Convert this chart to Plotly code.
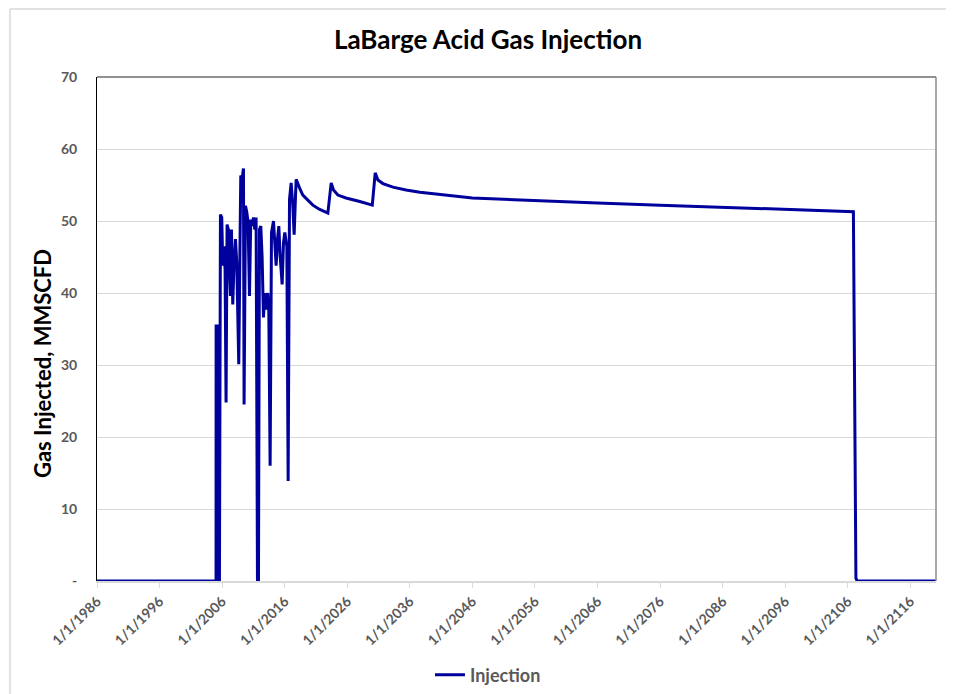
import plotly.graph_objects as go

# ---- data ----
dates = [
    "1986-01-01", "2005-01-10", "2005-01-15", "2005-05-28", "2005-06-17", "2005-07-27",
    "2005-09-24", "2005-12-10", "2006-02-06", "2006-04-23", "2006-06-21", "2006-08-18",
    "2006-10-16", "2007-01-04", "2007-03-04", "2007-05-01", "2007-06-29", "2007-09-13",
    "2007-11-28", "2008-02-17", "2008-05-04", "2008-08-29", "2008-11-14", "2008-12-24",
    "2009-03-11", "2009-05-30", "2009-07-05", "2009-09-24", "2009-12-10", "2010-02-24",
    "2010-05-16", "2010-07-31", "2010-10-16", "2011-01-04", "2011-03-22", "2011-06-07",
    "2011-08-26", "2011-10-23", "2011-12-20", "2012-03-06", "2012-05-22", "2012-08-10",
    "2012-10-26", "2013-01-11", "2013-04-20", "2013-06-17", "2013-09-02", "2013-11-21",
    "2014-03-18", "2014-06-03", "2014-08-19", "2014-11-07", "2015-01-23", "2015-04-10",
    "2015-08-05", "2015-10-23", "2016-01-08", "2016-05-05", "2016-07-20", "2016-10-08",
    "2017-01-12", "2017-04-20", "2017-07-06", "2017-09-24", "2017-11-01",
    "2018-05-15", "2018-11-24", "2019-09-13", "2020-07-01", "2021-08-08", "2022-11-24",
    "2023-06-07", "2023-10-20", "2024-07-01", "2025-10-20", "2028-01-01", "2030-01-01",
    "2030-06-20", "2030-11-24", "2031-09-13", "2033-04-20", "2035-05-28", "2037-08-08",
    "2046-01-01", "2056-01-01", "2066-01-01", "2076-01-01", "2086-01-01", "2096-01-01",
    "2106-11-24", "2107-04-20", "2107-07-01", "2120-02-06",
]
injection = [
    0, 0, 35.4, 35.4, 0, 0,
    50.9, 50.5, 43.8, 46.5, 43.3, 24.8,
    49.5, 48.8, 43.3, 39.6, 48.8, 38.4,
    44.2, 47.5, 44.2, 30.1, 47.9, 56.3,
    55.8, 57.3, 24.5, 52.1, 51.2, 49.8,
    39.6, 50.2, 49.3, 50.5, 48.8, 50.5,
    0, 0, 48.8, 49.3, 45.1, 36.6,
    40.0, 37.7, 40.0, 37.7, 16.0, 48.4,
    50.0, 46.5, 43.8, 47.5, 49.3, 45.1,
    41.2, 47.0, 48.4, 46.5, 13.9, 53.0,
    55.3, 52.1, 48.1, 53.5, 55.8,
    54.6, 53.6, 52.9, 52.2, 51.6, 51.1,
    55.3, 54.3, 53.6, 53.2, 52.7, 52.2,
    56.7, 55.7, 55.2, 54.7, 54.3, 54.0,
    53.2, 52.8, 52.5, 52.2, 51.9, 51.6,
    51.3, 0.4, 0, 0,
]

tick_years = [1986, 1996, 2006, 2016, 2026, 2036, 2046, 2056, 2066, 2076, 2086, 2096, 2106, 2116]
tick_vals = [f"{y}-01-01" for y in tick_years]
tick_text = [f"1/1/{y}" for y in tick_years]

y_ticks = [0, 10, 20, 30, 40, 50, 60, 70]
y_text = ["-", "10", "20", "30", "40", "50", "60", "70"]

FONT = "Lato, 'Open Sans', sans-serif"
GRAY = "#595959"

fig = go.Figure()
fig.add_trace(go.Scatter(
    x=dates, y=injection, mode="lines", name="Injection",
    line=dict(color="#00009C", width=3),
))

# the page body has an 8px margin, so the figure is drawn 8px smaller
OFF = 8
W, H = 954 - OFF, 694 - OFF
PL, PR, PT, PB = 97, 936, 77, 581          # plot area in screen pixels
L, R, T, B = PL - OFF, W - (PR - OFF), PT - OFF, H - (PB - OFF)
pw, ph = PR - PL, PB - PT

def px(xp):
    return (xp - PL) / pw

def py(yp):
    return (PB - yp) / ph

fig.update_layout(
    width=W, height=H,
    margin=dict(l=L, r=R, t=T, b=B, autoexpand=False),
    paper_bgcolor="white", plot_bgcolor="white",
    font=dict(family=FONT, color=GRAY),
    title=dict(
        text="LaBarge Acid Gas Injection",
        x=px(488), xref="paper", xanchor="center",
        y=1 - (40 - OFF) / H, yref="container", yanchor="middle",
        font=dict(family=FONT, size=26, color="black", weight="bold"),
    ),
    showlegend=True,
    legend=dict(
        orientation="h", x=px(488), xanchor="center", y=py(675), yanchor="middle",
        font=dict(family=FONT, size=18, color=GRAY, weight="bold"),
        itemwidth=30,
    ),
    xaxis=dict(
        type="date", range=["1986-01-01", "2120-02-06"],
        tickmode="array", tickvals=tick_vals, ticktext=tick_text,
        tickangle=-45, tickfont=dict(family=FONT, size=14, color=GRAY, weight="bold"),
        ticks="outside", ticklen=5, tickcolor="#D9D9D9",
        showgrid=False, showline=True, linecolor="#D9D9D9", linewidth=1.5,
        zeroline=False, automargin=False,
    ),
    yaxis=dict(
        range=[0, 70], tickmode="array", tickvals=y_ticks, ticktext=y_text,
        tickfont=dict(family=FONT, size=14, color=GRAY, weight="bold"),
        showgrid=True, gridcolor="#D9D9D9", gridwidth=1,
        showline=True, linecolor="black", linewidth=1,
        zeroline=False, ticks="", ticklabelstandoff=16, automargin=False,
    ),
    annotations=[dict(
        text="Gas Injected, MMSCFD", textangle=-90,
        x=px(42), y=py(364), xref="paper", yref="paper",
        xanchor="center", yanchor="middle", showarrow=False,
        font=dict(family=FONT, size=22, color="black", weight="bold"),
    )],
    shapes=[
        # top border of plot area
        dict(type="line", xref="paper", yref="paper", x0=0, x1=1, y0=1, y1=1,
             line=dict(color="#222222", width=1)),
        # right border of plot area
        dict(type="line", xref="paper", yref="paper", x0=1, x1=1, y0=0, y1=1,
             line=dict(color="#8C8C8C", width=1.5)),
        # chart-area outer border (top / left)
        dict(type="line", xref="paper", yref="paper", x0=px(10), x1=px(954),
             y0=py(9), y1=py(9), line=dict(color="#D9D9D9", width=1.5)),
        dict(type="line", xref="paper", yref="paper", x0=px(10), x1=px(10),
             y0=py(9), y1=py(694), line=dict(color="#D9D9D9", width=1.5)),
    ],
)

fig.write_html("out.html")
